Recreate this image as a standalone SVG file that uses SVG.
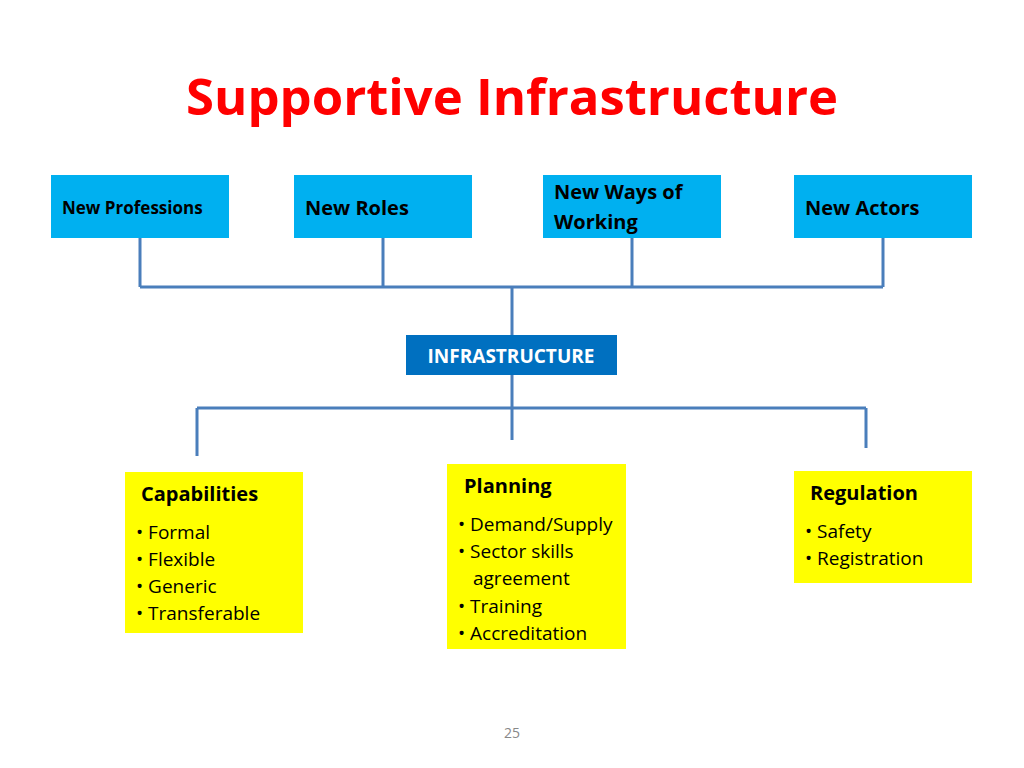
<svg xmlns="http://www.w3.org/2000/svg" width="1024" height="768" viewBox="0 0 1024 768">
<style>
.t{font-family:"Open Sans","Liberation Sans",sans-serif;font-weight:bold;fill:#000}
.b{font-family:"Open Sans","Liberation Sans",sans-serif;fill:#000;font-size:19px}
.top{fill:#00B0F0}
.y{fill:#FFFF00}
.c{stroke:#4A7EBB;stroke-width:3;fill:none}
</style>
<rect width="1024" height="768" fill="#fff"/>
<text x="512" y="115" text-anchor="middle" font-family="Open Sans,Liberation Sans,sans-serif" font-weight="bold" font-size="50" fill="#FF0000" textLength="652" lengthAdjust="spacingAndGlyphs">Supportive Infrastructure</text>
<g id="connectors">
<path class="c" d="M140 238V287M383 238V287M632 238V287M883 238V287M140 287H883M512 287V335"/>
<path class="c" d="M512 375V440M197 408H866M197 408V456M866 408V448"/>
</g>
<g id="n1"><rect class="top" x="51" y="175" width="178" height="63"/><text class="t" x="62" y="214" font-size="17">New Professions</text></g>
<g id="n2"><rect class="top" x="294" y="175" width="178" height="63"/><text class="t" x="305" y="215" font-size="20">New Roles</text></g>
<g id="n3"><rect class="top" x="543" y="175" width="178" height="63"/><text class="t" x="554" y="199" font-size="20">New Ways of</text><text class="t" x="554" y="229" font-size="20">Working</text></g>
<g id="n4"><rect class="top" x="794" y="175" width="178" height="63"/><text class="t" x="805" y="215" font-size="20">New Actors</text></g>
<g id="infra"><rect x="406" y="335" width="211" height="40" fill="#0070C0"/><text x="511" y="363" text-anchor="middle" font-family="Open Sans,Liberation Sans,sans-serif" font-weight="bold" font-size="19" fill="#fff">INFRASTRUCTURE</text></g>
<g id="cap"><rect class="y" x="125" y="472" width="178" height="161"/><text class="t" x="141" y="501" font-size="20">Capabilities</text>
<text class="b" x="136" y="539">• Formal</text><text class="b" x="136" y="566">• Flexible</text><text class="b" x="136" y="593">• Generic</text><text class="b" x="136" y="620">• Transferable</text></g>
<g id="plan"><rect class="y" x="447" y="464" width="179" height="185"/><text class="t" x="464" y="493" font-size="20">Planning</text>
<text class="b" x="458" y="531">• Demand/Supply</text><text class="b" x="458" y="558">• Sector skills</text><text class="b" x="473" y="585">agreement</text><text class="b" x="458" y="613">• Training</text><text class="b" x="458" y="640">• Accreditation</text></g>
<g id="reg"><rect class="y" x="794" y="471" width="178" height="112"/><text class="t" x="810" y="500" font-size="20">Regulation</text>
<text class="b" x="805" y="538">• Safety</text><text class="b" x="805" y="565">• Registration</text></g>
<text x="512" y="738" text-anchor="middle" font-family="Open Sans,Liberation Sans,sans-serif" font-size="14" fill="#888">25</text>
</svg>
